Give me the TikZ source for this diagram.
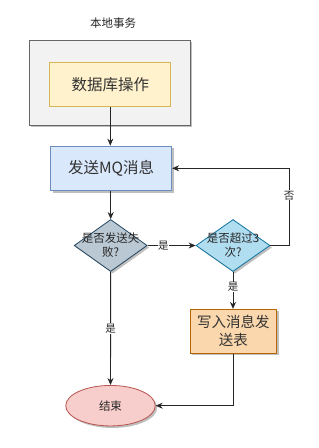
\documentclass[tikz,border=0pt]{standalone}
\usepackage{fontspec}
\setmainfont{Noto Sans CJK SC}
\usetikzlibrary{shapes.geometric,arrows.meta,shadows}
\definecolor{grayfill}{HTML}{F2F2F2}
\definecolor{grayline}{HTML}{666666}
\definecolor{yfill}{HTML}{FFF2CC}
\definecolor{yline}{HTML}{D6B656}
\definecolor{bfill}{HTML}{DAE8FC}
\definecolor{bline}{HTML}{6C8EBF}
\definecolor{d1fill}{HTML}{BAC8D3}
\definecolor{d1line}{HTML}{23445D}
\definecolor{d2fill}{HTML}{B1DDF0}
\definecolor{d2line}{HTML}{10739E}
\definecolor{ofill}{HTML}{FAD7AC}
\definecolor{oline}{HTML}{B46504}
\definecolor{rfill}{HTML}{F8CECC}
\definecolor{rline}{HTML}{B85450}
\tikzset{
  shad/.style={drop shadow={shadow xshift=2pt,shadow yshift=-2pt,fill=black,opacity=0.25}},
  boxs/.style={draw,line width=0.8pt,shad,inner sep=0pt,align=center,text=black!80},
  dia/.style={diamond,draw,line width=0.8pt,shad,inner sep=0pt,align=center,text=black!85,font=\fontsize{11.5}{13}\selectfont},
  conn/.style={line width=0.9pt,draw=black!85,-{Stealth[length=7pt,width=6pt]}},
  lbl/.style={fill=white,inner sep=0.5pt,font=\fontsize{10.5}{12}\selectfont,text=black!85}
}
\begin{document}
\begin{tikzpicture}[x=1pt,y=-1pt]
\useasboundingbox (0,0) rectangle (319,448);
\node[text=black!85,font=\fontsize{11.5}{13}\selectfont] (title) at (113,23) {本地事务};
\node[boxs,draw=grayline,fill=grayfill,minimum width=161pt,minimum height=85pt] (outer) at (109.5,82.5) {};
\node[draw=yline,fill=yfill,line width=0.8pt,minimum width=121pt,minimum height=44.5pt,inner sep=0pt,text=black!80,font=\fontsize{15.5}{18}\selectfont] (db) at (110.3,84.3) {数据库操作};
\node[boxs,draw=bline,fill=bfill,minimum width=121pt,minimum height=44.5pt,font=\fontsize{15.5}{18}\selectfont] (mq) at (111.2,168.3) {发送MQ消息};
\node[dia,draw=d1line,fill=d1fill,minimum width=73pt,minimum height=52pt,aspect=1.4] (d1) at (110.7,245.5) {};
\node[align=center,inner sep=0pt,text=black!85,font=\fontsize{11.5}{14}\selectfont] at (d1) {是否发送失\\败?};
\node[dia,draw=d2line,fill=d2fill,minimum width=74pt,minimum height=52pt,aspect=1.4] (d2) at (233,245.5) {};
\node[align=center,inner sep=0pt,text=black!85,font=\fontsize{11.5}{14}\selectfont] at (d2) {是否超过3\\次?};
\node[boxs,draw=oline,fill=ofill,minimum width=86.5pt,minimum height=44pt,font=\fontsize{14.5}{18}\selectfont] (write) at (233.3,331.3) {写入消息发\\送表};
\node[ellipse,draw=rline,fill=rfill,line width=0.8pt,shad,minimum width=89.5pt,minimum height=40.5pt,inner sep=0pt,text=black!85,font=\fontsize{11.5}{13}\selectfont] (end) at (110.5,405.7) {结束};
\coordinate (c1) at (289,245.5);
\coordinate (c2) at (289,168.3);
\coordinate (c3) at (233,405.7);
\draw[conn] (db.south) -- (mq.north -| db.south);
\draw[conn] (mq.south -| d1.north) -- (d1.north);
\draw[conn] (d1.east) -- node[lbl,pos=0.33] {是} (d2.west);
\draw[conn] (d2.east) -- (c1) -- node[lbl,pos=0.65] {否} (c2) -- (mq.east);
\draw[conn] (d2.south) -- node[lbl,pos=0.4] {是} (write.north -| d2.south);
\draw[conn] (d1.south) -- node[lbl,pos=0.5] {是} (end.north);
\draw[conn] (write.south -| c3) -- (c3) -- (end.east);
\end{tikzpicture}
\end{document}
